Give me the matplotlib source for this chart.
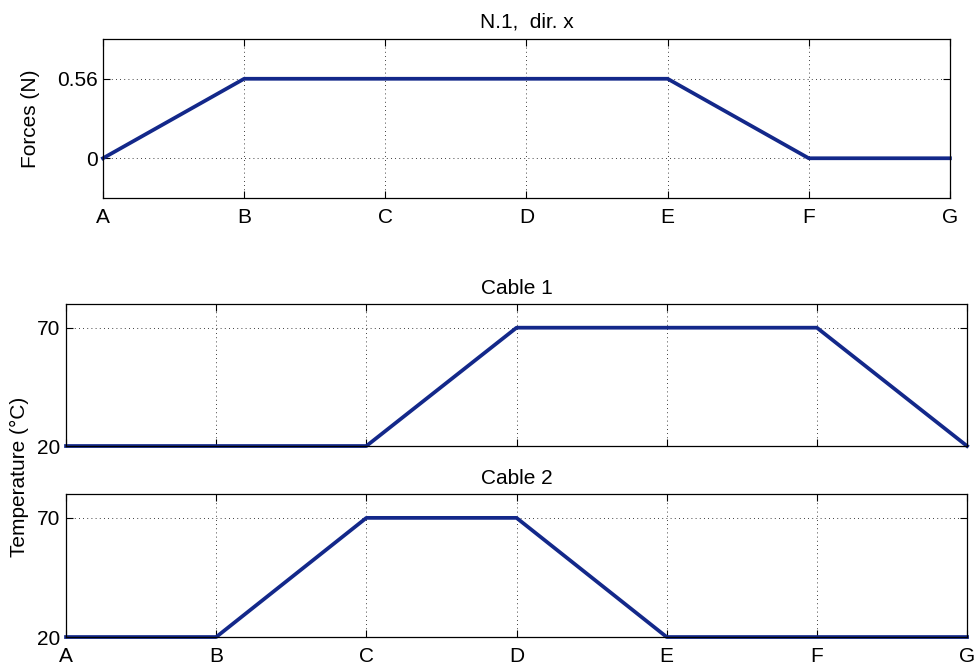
import numpy as np
import matplotlib.pyplot as plt

plt.rcParams['font.family'] = ['Liberation Sans', 'DejaVu Sans']

# data
stages = ["A", "B", "C", "D", "E", "F", "G"]
forces = [0, 0.56, 0.56, 0.56, 0.56, 0, 0]
cable1 = [20, 20, 20, 70, 70, 70, 20]
cable2 = [20, 20, 70, 70, 20, 20, 20]

line_color = "#13288a"
x = np.arange(len(stages))

fig = plt.figure(figsize=(9.78, 6.66), dpi=100)
ax1 = fig.add_axes([0.1053, 0.7027, 0.866, 0.2387])
ax2 = fig.add_axes([0.0675, 0.3303, 0.9213, 0.2132])
ax3 = fig.add_axes([0.0675, 0.0435, 0.9213, 0.2147])


def style(ax):
    ax.set_xlim(0, len(stages) - 1)
    ax.set_xticks(x)
    ax.set_xticklabels(stages)
    ax.grid(True, linestyle=(0, (1, 4)), color="black", linewidth=0.6)
    ax.tick_params(direction="in", top=True, right=True, length=5,
                   width=0.8, labelsize=15)
    ax.tick_params(axis="x", pad=7)
    ax.tick_params(axis="y", pad=4)
    for s in ax.spines.values():
        s.set_linewidth(0.9)


ax1.plot(x, forces, color=line_color, linewidth=2.7, clip_on=False)
style(ax1)
ax1.set_ylim(-0.28, 0.84)
ax1.set_yticks([0, 0.56])
ax1.set_yticklabels(["0", "0.56"])
ax1.set_ylabel("Forces (N)", fontsize=15, labelpad=12)
ax1.set_title("N.1,  dir. x", fontsize=15, pad=8)

ax2.plot(x, cable1, color=line_color, linewidth=2.7, clip_on=False)
style(ax2)
ax2.set_ylim(20, 80)
ax2.set_yticks([20, 70])
ax2.set_xticklabels([])
ax2.set_title("Cable 1", fontsize=15, pad=7)

ax3.plot(x, cable2, color=line_color, linewidth=2.7, clip_on=False)
style(ax3)
ax3.set_ylim(20, 80)
ax3.set_yticks([20, 70])
ax3.set_title("Cable 2", fontsize=15, pad=7)

fig.text(0.0204, 0.284, "Temperature (°C)", rotation=90, fontsize=15,
         ha="center", va="center")

fig.savefig("out.png", dpi=100)
